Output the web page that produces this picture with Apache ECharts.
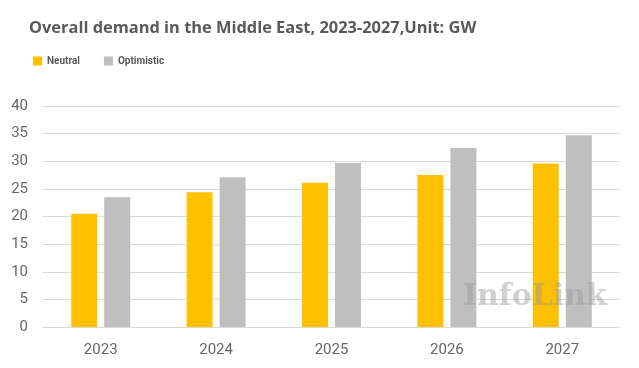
<!DOCTYPE html>
<html><head><meta charset="utf-8">
<script src="https://cdn.jsdelivr.net/npm/echarts@6/dist/echarts.min.js"></script>
<style>html,body{margin:0;padding:0;background:#fff}#c{width:639px;height:368px}</style>
</head><body><div id="c"></div>
<script>
const categories = ['2023','2024','2025','2026','2027'];
const neutral = [20.5, 24.4, 26.1, 27.5, 29.6];
const optimistic = [23.5, 27.1, 29.7, 32.4, 34.7];
const yTicks = {min:0, max:40, interval:5};

const chart = echarts.init(document.getElementById('c'));
chart.setOption({
  animation:false,
  title:{text:'Overall demand in the Middle East, 2023-2027,Unit: GW', left:24, top:15,
    textStyle:{fontFamily:'Open Sans', fontWeight:'bold', fontSize:16.4, color:'#595959'}},
  legend:{left:28, top:51, itemWidth:9, itemHeight:9, itemGap:24, icon:'rect',
    textStyle:{fontFamily:'Roboto', fontWeight:'bold', fontSize:10, color:'#595959'},
    data:['Neutral','Optimistic']},
  grid:{left:43, right:19, top:106, bottom:41},
  xAxis:{type:'category', data:categories,
    axisLine:{lineStyle:{color:'#d9d9d9'}}, axisTick:{show:false},
    axisLabel:{fontFamily:'Roboto', fontSize:15, color:'#666666', margin:16}},
  yAxis:{type:'value', min:yTicks.min, max:yTicks.max, interval:yTicks.interval,
    axisLine:{show:false}, axisTick:{show:false},
    splitLine:{lineStyle:{color:'#d9d9d9'}},
    axisLabel:{fontFamily:'Roboto', fontSize:15, color:'#666666', margin:15}},
  series:[
    {name:'Neutral', type:'bar', data:neutral, barWidth:'22.5%', barGap:'27%', itemStyle:{color:'#FFC000'}},
    {name:'Optimistic', type:'bar', data:optimistic, barWidth:'22.5%', itemStyle:{color:'#BFBFBF'}}
  ],
  graphic:[{type:'text', left:463, top:282, z:100,
    style:{text:'InfoLink', font:'bold 30px "DejaVu Serif", serif', fill:'rgba(150,150,150,0.45)'}}]
});
</script></body></html>
